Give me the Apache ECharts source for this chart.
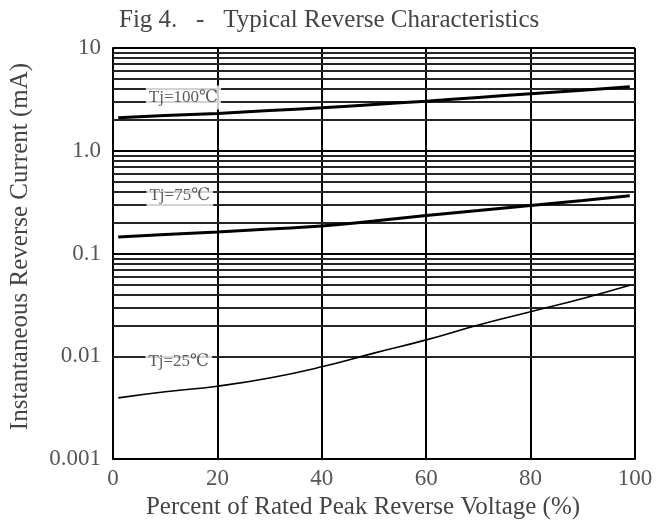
<!DOCTYPE html>
<html><head><meta charset="utf-8">
<script src="https://cdn.jsdelivr.net/npm/echarts@6/dist/echarts.min.js"></script>
<style>html,body{margin:0;padding:0;background:#fff}#c{width:661px;height:525px}</style>
</head><body><div id="c"></div>
<script>
// ---- data ----
const xPct = [1, 10, 20, 30, 40, 50, 60, 70, 80, 90, 99];
const tj100 = [2.10, 2.20, 2.31, 2.46, 2.62, 2.82, 3.04, 3.30, 3.59, 3.88, 4.19];
const tj75  = [0.145, 0.153, 0.162, 0.173, 0.185, 0.207, 0.234, 0.262, 0.293, 0.328, 0.366];
const tj25  = [0.00394, 0.00452, 0.00512, 0.00615, 0.00790, 0.01074, 0.01445, 0.0202, 0.0272, 0.0366, 0.0492];
const curveLabels = ['Tj=100℃', 'Tj=75℃', 'Tj=25℃'];
const labelX = [13.5, 12.8, 12.6];
const labelY = [3.3, 0.37, 0.0088];
const xTicks = [0, 20, 40, 60, 80, 100];
const yTickLabels = ['0.001', '0.01', '0.1', '1.0', '10'];
const decades = [0.001, 0.01, 0.1, 1];
const minorMultipliers = [2, 3, 4, 5, 6, 7, 8, 9];

const FONT = '"Liberation Serif", "DejaVu Serif", serif';
const minorLines = [];
decades.forEach(d => minorMultipliers.forEach(m => minorLines.push({ yAxis: +(d * m).toPrecision(3) })));

const chart = echarts.init(document.getElementById('c'), null, { renderer: 'canvas' });
chart.setOption({
  animation: false,
  backgroundColor: '#fff',
  title: {
    text: 'Fig 4.   -   Typical Reverse Characteristics',
    left: 114, top: 3,
    textStyle: { fontFamily: FONT, fontSize: 25, fontWeight: 'normal', color: '#444' }
  },
  grid: { left: 113, right: 26, top: 48, bottom: 63, containLabel: false },
  xAxis: {
    type: 'value', min: 0, max: 100, interval: 20,
    name: 'Percent of Rated Peak Reverse Voltage (%)',
    nameLocation: 'middle', nameGap: 34,
    nameTextStyle: { fontFamily: FONT, fontSize: 25, color: '#444', padding: [0, 22, 0, 0] },
    axisLine: { show: true, lineStyle: { color: '#000', width: 2 } },
    axisTick: { show: false },
    axisLabel: { fontFamily: FONT, fontSize: 23, color: '#555', margin: 8,
      formatter: v => xTicks.includes(v) ? String(v) : '' },
    splitLine: { show: true, lineStyle: { color: '#000', width: 2 } }
  },
  yAxis: {
    type: 'log', logBase: 10, min: 0.001, max: 10, interval: 1,
    name: 'Instantaneous Reverse Current (mA)',
    nameLocation: 'middle', nameGap: 80,
    nameTextStyle: { fontFamily: FONT, fontSize: 25, color: '#444', padding: [0, 0, 0, 14] },
    axisLine: { show: true, lineStyle: { color: '#000', width: 2 } },
    axisTick: { show: false },
    minorTick: { show: false },
    minorSplitLine: { show: false },
    axisLabel: { fontFamily: FONT, fontSize: 23, color: '#555', margin: 12,
      formatter: v => yTickLabels[Math.round(Math.log10(v)) + 3] },
    splitLine: { show: true, lineStyle: { color: '#000', width: 2 } }
  },
  series: [
    {
      type: 'line', data: [], silent: true,
      markLine: {
        silent: true, symbol: 'none', label: { show: false },
        lineStyle: { type: 'solid', color: '#262626', width: 1.8 },
        data: minorLines, animation: false
      }
    },
    { type: 'line', name: curveLabels[0], smooth: true, showSymbol: false, z: 5,
      lineStyle: { color: '#000', width: 3 }, data: xPct.map((x, i) => [x, tj100[i]]) },
    { type: 'line', name: curveLabels[1], smooth: true, showSymbol: false, z: 5,
      lineStyle: { color: '#000', width: 3 }, data: xPct.map((x, i) => [x, tj75[i]]) },
    { type: 'line', name: curveLabels[2], smooth: true, showSymbol: false, z: 5,
      lineStyle: { color: '#000', width: 1.6 }, data: xPct.map((x, i) => [x, tj25[i]]) },
    {
      type: 'scatter', symbolSize: 1, z: 10, silent: true,
      itemStyle: { color: 'rgba(0,0,0,0)' },
      data: curveLabels.map((t, i) => ({ name: t, value: [labelX[i], labelY[i]] })),
      label: {
        show: true, position: 'inside', formatter: p => p.name,
        fontFamily: FONT, fontSize: 17, color: '#333',
        backgroundColor: '#fff', padding: [4, 3, 3, 3]
      }
    }
  ]
});
</script></body></html>
